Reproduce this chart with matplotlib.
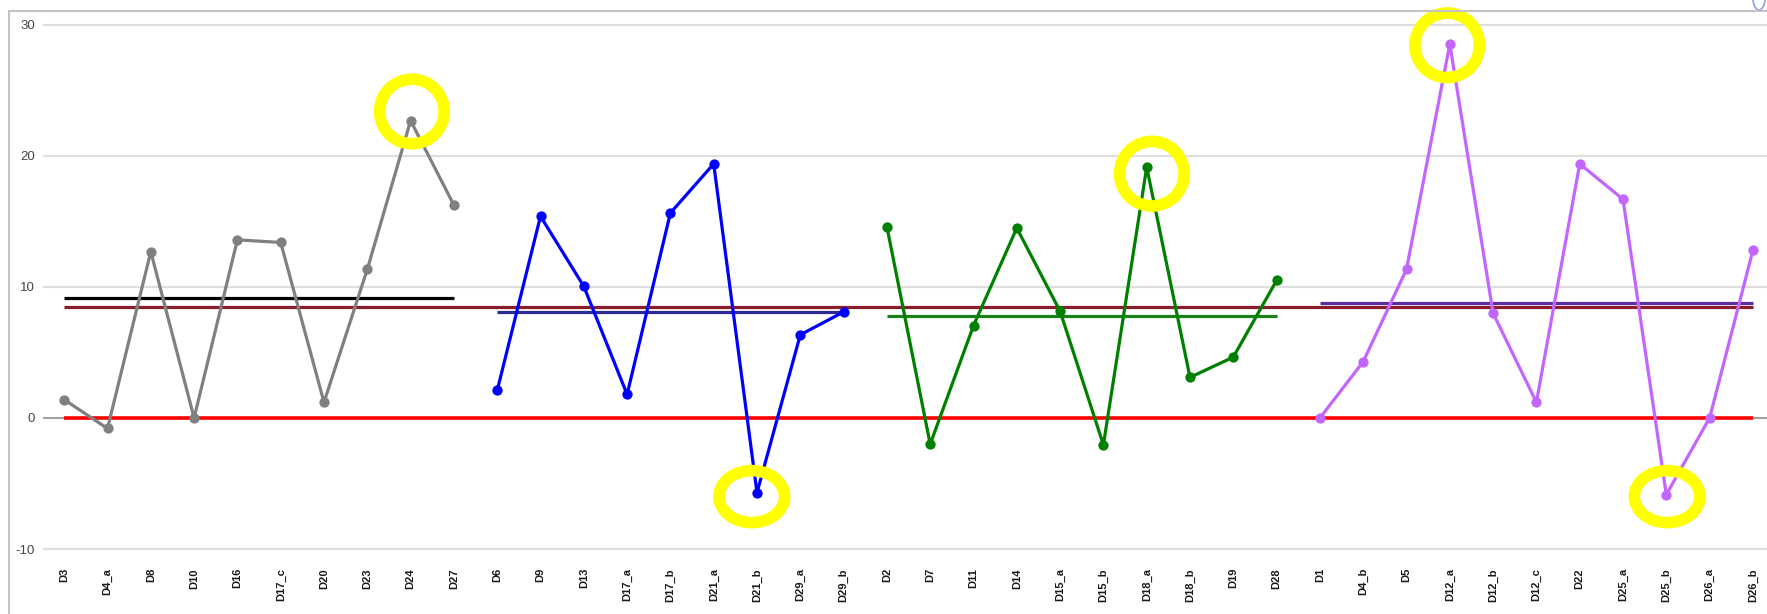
import numpy as np
import matplotlib
matplotlib.use('Agg')
import matplotlib.pyplot as plt
from matplotlib.patches import Ellipse, Arc
from matplotlib.lines import Line2D

plt.rcParams['font.family'] = ['Liberation Sans', 'DejaVu Sans']

# ---------------- data ----------------
group1_labels = ['D3', 'D4_a', 'D8', 'D10', 'D16', 'D17_c', 'D20', 'D23', 'D24', 'D27']
group1_values = [1.4, -0.8, 12.7, 0.0, 13.6, 13.4, 1.2, 11.35, 22.7, 16.25]

group2_labels = ['D6', 'D9', 'D13', 'D17_a', 'D17_b', 'D21_a', 'D21_b', 'D29_a', 'D29_b']
group2_values = [2.1, 15.4, 10.05, 1.8, 15.65, 19.4, -5.7, 6.35, 8.1]

group3_labels = ['D2', 'D7', 'D11', 'D14', 'D15_a', 'D15_b', 'D18_a', 'D18_b', 'D19', 'D28']
group3_values = [14.6, -2.0, 7.05, 14.5, 8.15, -2.05, 19.15, 3.1, 4.65, 10.5]

group4_labels = ['D1', 'D4_b', 'D5', 'D12_a', 'D12_b', 'D12_c', 'D22', 'D25_a', 'D25_b', 'D26_a', 'D26_b']
group4_values = [0.0, 4.3, 11.35, 28.55, 8.0, 1.2, 19.4, 16.7, -5.85, 0.0, 12.8]

highlighted = ['D24', 'D21_b', 'D18_a', 'D12_a', 'D25_b']
y_ticks = [-10, 0, 10, 20, 30]

# ---------------- styles ----------------
series_colors = ['#808080', '#0000ff', '#008000', '#c266ff']
mean_colors = ['#000000', '#2b2b9a', '#1a801a', '#5a2e9e']
overall_color = '#8b1c2c'
zero_color = '#ff0000'
# ring offsets (category units, data units) and shape (half-width px, half-height px)
ring_style = {
    'D24': (0.03, 0.7, 32.3, 32.3),
    'D21_b': (-0.12, -0.3, 32.8, 26.0),
    'D18_a': (0.12, -0.5, 32.3, 32.3),
    'D12_a': (-0.06, -0.1, 32.3, 32.3),
    'D25_b': (0.02, -0.15, 32.8, 26.0),
}

W, H = 1767, 614
fig = plt.figure(figsize=(W / 100, H / 100), dpi=100)

px_cat = 43.3        # pixels per category
px_unit = 13.1       # pixels per y unit
x0_px = 64.2         # pixel x of first category
ylo, yhi = -10.5, 30.5
y30_px = 25.0
top_px = y30_px - (yhi - 30) * px_unit
bot_px = y30_px + (30 - ylo) * px_unit
left_px = x0_px - 0.5 * px_cat
ax = fig.add_axes([left_px / W, (H - bot_px) / H, (W - left_px) / W, (bot_px - top_px) / H])
ax.set_xlim(-0.5, (W - x0_px) / px_cat)
ax.set_ylim(ylo, yhi)

groups = [
    (group1_labels, group1_values),
    (group2_labels, group2_values),
    (group3_labels, group3_values),
    (group4_labels, group4_values),
]

all_labels = []
all_values = []
start = 0
for gi, (labs, vals) in enumerate(groups):
    xs = np.arange(start, start + len(labs))
    ax.plot(xs, vals, color=series_colors[gi], lw=2.3, marker='o', ms=7.4,
            markeredgewidth=0, zorder=5, solid_joinstyle='miter')
    m = np.mean(vals)
    ax.plot([xs[0], xs[-1]], [m, m], color=mean_colors[gi], lw=2.3, zorder=3,
            solid_capstyle='butt')
    all_labels += labs
    all_values += vals
    start += len(labs)

n = len(all_labels)
xall = np.arange(n)
overall = np.mean(all_values)
ax.plot([0, n - 1], [overall, overall], color=overall_color, lw=2.3, zorder=2.5,
        solid_capstyle='butt')
ax.plot([0, n - 1], [0, 0], color=zero_color, lw=2.6, zorder=2.6, solid_capstyle='butt')
ax.axhline(0, color='#a0a0a0', lw=1.4, zorder=1)

# highlight rings
for name in highlighted:
    i = all_labels.index(name)
    dx, dy, hw, hh = ring_style[name]
    e = Ellipse((i + dx, all_values[i] + dy), width=2 * hw / px_cat, height=2 * hh / px_unit,
                fill=False, edgecolor='#ffff00', lw=8.4, zorder=10, clip_on=False)
    ax.add_patch(e)

# axes styling
ax.set_yticks(y_ticks)
ax.set_yticklabels([str(t) for t in y_ticks])
ax.set_xticks(xall)
ax.set_xticklabels(all_labels, rotation=90, fontsize=8, fontweight='bold', color='#1a1a1a')
ax.tick_params(axis='x', length=0, pad=9)
ax.tick_params(axis='y', length=0, pad=5.5, labelsize=9.5, labelcolor='#444444')
ax.yaxis.grid(True, color='#dedede', lw=1.6, zorder=0)
ax.xaxis.grid(False)
for s in ax.spines.values():
    s.set_visible(False)
ax.set_axisbelow(True)

# outer frame (left + top)
frame_y = (H - 11) / H
frame_x = 8.5 / W
fig.add_artist(Line2D([frame_x, frame_x], [0, frame_y], transform=fig.transFigure,
                      color='#c4c4c4', lw=1.5))
fig.add_artist(Line2D([frame_x, 1], [frame_y, frame_y], transform=fig.transFigure,
                      color='#c4c4c4', lw=1.5))
# small arc fragment at top-right corner
fig.add_artist(Arc((1759 / W, (H + 5) / H), 13 / W, 30 / H, theta1=180, theta2=360,
                   transform=fig.transFigure, color='#8aa4d8', lw=1.2))

fig.savefig('out.png', dpi=100, facecolor='white')
